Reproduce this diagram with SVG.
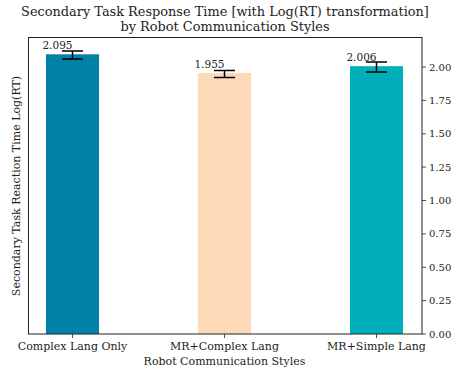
<svg xmlns="http://www.w3.org/2000/svg" width="452" height="371" viewBox="0 0 452 371">
  <style>
    text { font-family: "DejaVu Serif", "Liberation Serif", serif; fill: #222; }
    .title { font-size: 12.9px; text-anchor: middle; }
    .tick { font-size: 10px; }
    .xtick { font-size: 11px; text-anchor: middle; }
    .val { font-size: 10.5px; text-anchor: end; }
    .lbl { font-size: 11px; text-anchor: middle; }
    .spine { stroke: #222; stroke-width: 1; fill: none; }
    .tickmark { stroke: #222; stroke-width: 0.8; }
    .err { stroke: #000; stroke-width: 1.5; fill: none; }
  </style>
  <rect width="452" height="371" fill="#fff"/>

  <!-- title -->
  <text class="title" x="225" y="16">Secondary Task Response Time [with Log(RT) transformation]</text>
  <text class="title" x="225" y="31">by Robot Communication Styles</text>

  <!-- bars -->
  <g id="bar-complex-lang-only">
    <rect x="46" y="54.3" width="53" height="279.7" fill="#0081A7"/>
    <text class="val" x="72.5" y="49">2.095</text>
  </g>
  <g id="bar-mr-complex-lang">
    <rect x="198" y="73" width="53" height="261" fill="#FED9B7"/>
    <text class="val" x="224.5" y="67.5">1.955</text>
  </g>
  <g id="bar-mr-simple-lang">
    <rect x="350" y="66.2" width="53" height="267.8" fill="#00AFB9"/>
    <text class="val" x="376.5" y="61">2.006</text>
  </g>

  <!-- error bars -->
  <g id="error-bars">
    <path class="err" d="M72.5 51 V59 M62 51 H83 M62 59 H83"/>
    <path class="err" d="M224.5 70.5 V77.5 M214 70.5 H235 M214 77.5 H235"/>
    <path class="err" d="M376.5 62 V72 M366 62 H387 M366 72 H387"/>
  </g>

  <!-- axes frame -->
  <rect class="spine" x="28.5" y="37.5" width="393.5" height="296.5"/>

  <!-- right y axis -->
  <g id="y-axis">
    <path class="tickmark" d="M422 334 h4 M422 300.6 h4 M422 267.3 h4 M422 233.9 h4 M422 200.5 h4 M422 167.1 h4 M422 133.8 h4 M422 100.4 h4 M422 67 h4"/>
    <text class="tick" x="429" y="337.5">0.00</text>
    <text class="tick" x="429" y="304.1">0.25</text>
    <text class="tick" x="429" y="270.8">0.50</text>
    <text class="tick" x="429" y="237.4">0.75</text>
    <text class="tick" x="429" y="204">1.00</text>
    <text class="tick" x="429" y="170.6">1.25</text>
    <text class="tick" x="429" y="137.3">1.50</text>
    <text class="tick" x="429" y="103.9">1.75</text>
    <text class="tick" x="429" y="70.5">2.00</text>
    <text class="lbl" transform="translate(20 186) rotate(-90)">Secondary Task Reaction Time Log(RT)</text>
  </g>

  <!-- x axis -->
  <g id="x-axis">
    <path class="tickmark" d="M72.5 334 v4 M224.5 334 v4 M376.5 334 v4"/>
    <text class="xtick" x="72.5" y="349.5">Complex Lang Only</text>
    <text class="xtick" x="224.5" y="349.5">MR+Complex Lang</text>
    <text class="xtick" x="376.5" y="349.5">MR+Simple Lang</text>
    <text class="lbl" x="224.5" y="365">Robot Communication Styles</text>
  </g>
</svg>
